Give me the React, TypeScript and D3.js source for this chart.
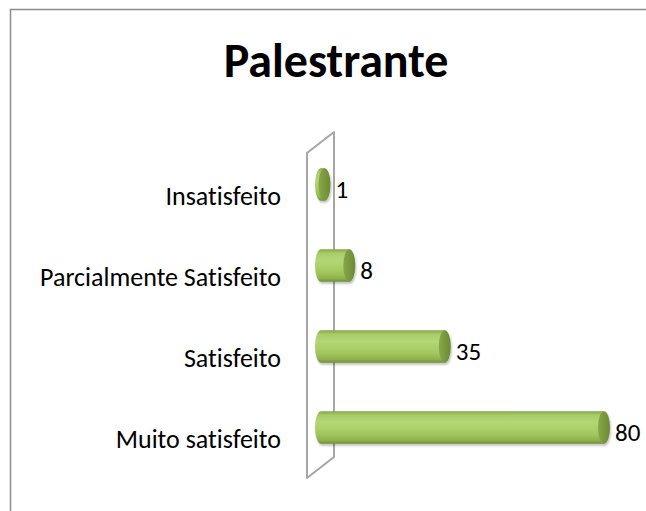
import React from "react";
import * as d3 from "d3";

const title = "Palestrante";
const categories = ["Insatisfeito", "Parcialmente Satisfeito", "Satisfeito", "Muito satisfeito"];
const values = [1, 8, 35, 80];

const W = 646;
const H = 511;

export default function App() {
  const y = d3.scaleBand<string>().domain(categories).range([144, 468]).paddingInner(0.6).paddingOuter(0.3);
  const x = d3.scaleLinear().domain([0, 80]).range([321, 604]);
  const rx = 6;
  const ry = y.bandwidth() / 2;

  // 3d wall (back plane)
  const wallFront = 307;
  const depthX = 27;
  const depthY = -21;
  const wallTop = 153;
  const wallBottom = 478;
  const wallPath = d3.path();
  wallPath.moveTo(wallFront, wallBottom);
  wallPath.lineTo(wallFront, wallTop);
  wallPath.lineTo(wallFront + depthX, wallTop + depthY);
  wallPath.lineTo(wallFront + depthX, wallBottom + depthY);
  wallPath.closePath();

  const font = "Calibri, Carlito, 'Open Sans', sans-serif";
  const noLig = { fontVariantLigatures: "none" as const };

  return (
    <svg width={W} height={H} style={{ position: "absolute", left: 0, top: 0 }}>
      <defs>
        <linearGradient id="body" x1="0" y1="0" x2="0" y2="1">
          <stop offset="0" stopColor="#86a647" />
          <stop offset="0.12" stopColor="#a8cc68" />
          <stop offset="0.35" stopColor="#b4d775" />
          <stop offset="0.7" stopColor="#a3c75f" />
          <stop offset="0.9" stopColor="#8fb04e" />
          <stop offset="1" stopColor="#718f35" />
        </linearGradient>
        <linearGradient id="cap" x1="0" y1="0" x2="1" y2="0">
          <stop offset="0" stopColor="#87a748" />
          <stop offset="1" stopColor="#6c8a33" />
        </linearGradient>
        <filter id="shadow" x="-10%" y="-30%" width="130%" height="180%">
          <feGaussianBlur in="SourceAlpha" stdDeviation="1.2" />
          <feOffset dx="1" dy="1.5" result="b" />
          <feComponentTransfer>
            <feFuncA type="linear" slope="0.25" />
          </feComponentTransfer>
          <feMerge>
            <feMergeNode />
            <feMergeNode in="SourceGraphic" />
          </feMerge>
        </filter>
      </defs>
      <rect x={0} y={0} width={W} height={H} fill="#ffffff" />
      <rect x={10.5} y={9.5} width={W + 20} height={H + 20} fill="none" stroke="#8c8c8c" strokeWidth={1.5} />

      <text x={336} y={77} textAnchor="middle" fontFamily={font} fontWeight="bold" fontSize={48} fill="#000" style={noLig}>
        {title}
      </text>

      <path d={wallPath.toString()} fill="none" stroke="#a6a6a6" strokeWidth={2} strokeLinejoin="round" />

      {categories.map((c, i) => {
        const cy = (y(c) as number) + ry;
        const x0 = x(0);
        const x1 = x(values[i]);
        return (
          <g key={c} filter="url(#shadow)">
            <path
              d={`M${x0},${cy - ry} L${x1},${cy - ry} L${x1},${cy + ry} L${x0},${cy + ry} A${rx},${ry} 0 0 1 ${x0},${cy - ry} Z`}
              fill="url(#body)"
            />
            <ellipse cx={x1} cy={cy} rx={rx} ry={ry} fill="url(#cap)" />
          </g>
        );
      })}

      {categories.map((c, i) => {
        const cy = (y(c) as number) + ry;
        return (
          <g key={c + "-t"}>
            <text x={281} y={cy + 20} textAnchor="end" fontFamily={font} fontSize={26} fill="#000" style={noLig}>
              {c}
            </text>
            <text x={x(values[i]) + rx + 5} y={cy + 13.5} fontFamily={font} fontSize={25} fill="#000">
              {values[i]}
            </text>
          </g>
        );
      })}
    </svg>
  );
}
